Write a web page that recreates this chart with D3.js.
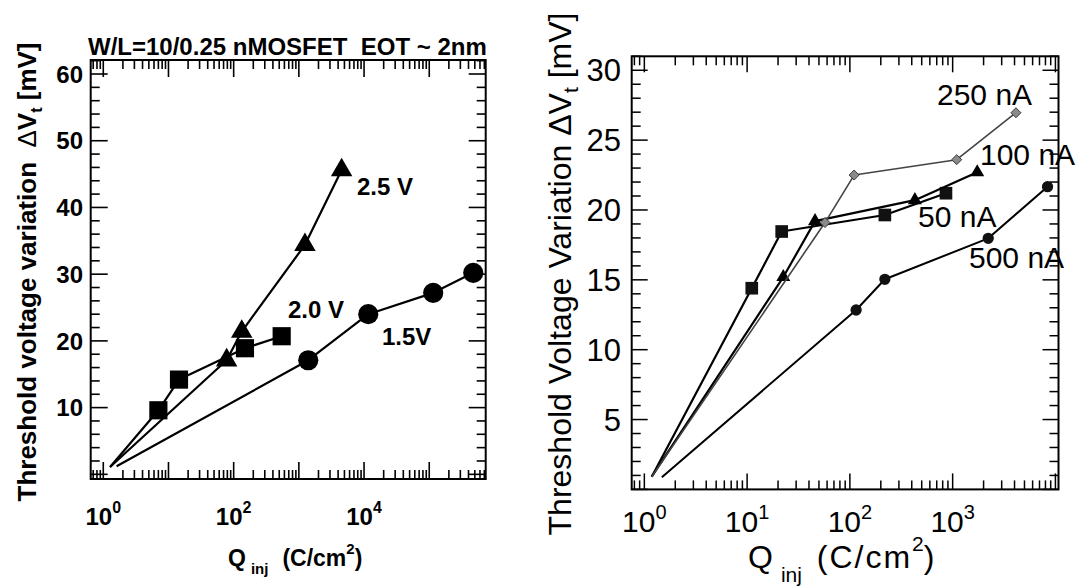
<!DOCTYPE html>
<html><head><meta charset="utf-8">
<script src="https://cdn.jsdelivr.net/npm/d3@7"></script>
<style>
body{margin:0;background:#fff}
svg{display:block}
text{font-family:"Liberation Sans",Arial,Helvetica,sans-serif;fill:#000}
</style>
</head><body>
<svg id="chart" width="1084" height="587"></svg>
<script>
// ---------------- data (left panel) ----------------
const leftTitle = "W/L=10/0.25 nMOSFET\u00a0\u00a0EOT ~ 2nm";
const leftYTicks = [10, 20, 30, 40, 50, 60];
const leftXExps = [0, 2, 4];
const leftNames = ["2.5 V", "2.0 V", "1.5V"];
const leftQ25 = [1.27, 78, 133, 1240, 4530];
const leftV25 = [1.1, 17.1, 21.4, 34.4, 45.6];
const leftQ20 = [1.27, 7.0, 14.5, 149, 545];
const leftV20 = [1.1, 9.6, 14.2, 18.9, 20.7];
const leftQ15 = [1.6, 1394, 11600, 115000, 473000];
const leftV15 = [1.2, 17.1, 24.0, 27.2, 30.2];

// ---------------- data (right panel) ----------------
const rightYTicks = [5, 10, 15, 20, 25, 30];
const rightXExps = [0, 1, 2, 3];
const rightNames = ["250 nA", "100 nA", "50 nA", "500 nA"];
const rightQ50 = [1.18, 11.1, 21.7, 219, 861];
const rightV50 = [0.91, 14.4, 18.46, 19.64, 21.2];
const rightQ100 = [1.18, 22.5, 45.8, 429, 1735];
const rightV100 = [0.91, 15.2, 19.2, 20.7, 22.7];
const rightQ250 = [1.18, 57.3, 110, 1094, 4130];
const rightV250 = [0.91, 19.1, 22.5, 23.6, 26.96];
const rightQ500 = [1.48, 115, 219, 2220, 8380];
const rightV500 = [0.87, 12.84, 15.04, 17.97, 21.67];

const svg = d3.select("#chart");
svg.append("rect").attr("width", 1084).attr("height", 587).attr("fill", "#fff");

const zip = (q, v) => q.map((d, i) => ({q: d, v: v[i]}));

function logTicks(scale) {
  const [a, b] = scale.domain();
  const out = [];
  for (let e = Math.floor(Math.log10(a)); e <= Math.ceil(Math.log10(b)); e++)
    for (let k = 1; k <= 9; k++) {
      const v = k * Math.pow(10, e);
      if (v >= a && v <= b) out.push({v, major: k === 1});
    }
  return out;
}

function drawFrame(g, x, y, o) {
  const [x0, x1] = x.range(), [y0, y1] = y.range();
  const tg = g.append("g").attr("stroke", "#000").attr("stroke-width", o.tickW);
  logTicks(x).forEach(t => {
    const xx = x(t.v), L = t.major ? o.maj : o.min;
    tg.append("line").attr("x1", xx).attr("x2", xx).attr("y1", y0).attr("y2", y0 - L);
    tg.append("line").attr("x1", xx).attr("x2", xx).attr("y1", y1).attr("y2", y1 + L);
  });
  const [ya, yb] = y.domain();
  for (let v = Math.ceil(ya / o.yStep) * o.yStep; v <= yb + 1e-9; v += o.yStep) {
    const major = Math.abs(v / o.yMajor - Math.round(v / o.yMajor)) < 1e-6;
    const L = major ? o.maj : o.min, yy = y(v);
    tg.append("line").attr("x1", x0).attr("x2", x0 + L).attr("y1", yy).attr("y2", yy);
    tg.append("line").attr("x1", x1).attr("x2", x1 - L).attr("y1", yy).attr("y2", yy);
  }
  g.append("rect").attr("x", x0).attr("y", y1).attr("width", x1 - x0).attr("height", y0 - y1)
    .attr("fill", "none").attr("stroke", "#000").attr("stroke-width", o.frameW);
}

function drawSeries(g, x, y, data, st) {
  const line = d3.line().x(d => x(d.q)).y(d => y(d.v));
  g.append("path").attr("d", line(data)).attr("fill", "none")
    .attr("stroke", st.line).attr("stroke-width", st.lw).attr("stroke-linejoin", "round");
  g.selectAll(null).data(data.slice(1)).enter().append("path")
    .attr("transform", d => `translate(${x(d.q)},${y(d.v)})`)
    .attr("d", d3.symbol().type(st.sym).size(st.size))
    .attr("fill", st.fill).attr("stroke", st.stroke || "none").attr("stroke-width", st.sw || 0);
}

// =============== LEFT PANEL ===============
{
  const g = svg.append("g");
  const x = d3.scaleLog().domain([Math.pow(10, -0.193), Math.pow(10, 5.866)]).range([90.7, 485.7]);
  const y = d3.scaleLinear().domain([-0.7, 62.1]).range([479, 60]);
  drawFrame(g, x, y, {maj: 17, min: 9, tickW: 1.6, frameW: 2, yStep: 2, yMajor: 10});

  drawSeries(g, x, y, zip(leftQ15, leftV15), {line: "#000", lw: 2.2, sym: d3.symbolCircle, size: 320, fill: "#000"});
  drawSeries(g, x, y, zip(leftQ20, leftV20), {line: "#000", lw: 2.2, sym: d3.symbolSquare, size: 330, fill: "#000"});
  drawSeries(g, x, y, zip(leftQ25, leftV25), {line: "#000", lw: 2.2, sym: d3.symbolTriangle, size: 200, fill: "#000"});

  const bold = s => s.attr("font-weight", 700);
  g.append("text").attr("x", 88).attr("y", 55).attr("font-size", 24).call(bold).text(leftTitle);

  g.selectAll(null).data(leftYTicks).enter().append("text")
    .attr("x", 83).attr("y", d => y(d)).attr("dy", "0.36em").attr("text-anchor", "end")
    .attr("font-size", 24).call(bold).text(d => d);

  leftXExps.forEach(e => {
    const t = g.append("text").attr("x", x(Math.pow(10, e))).attr("y", 525)
      .attr("text-anchor", "middle").attr("font-size", 24).call(bold);
    t.append("tspan").text("10");
    t.append("tspan").attr("font-size", 16).attr("dy", -12).text(e);
  });

  const xl = g.append("text").attr("x", 228).attr("y", 566).attr("font-size", 23).call(bold);
  xl.append("tspan").text("Q");
  xl.append("tspan").attr("font-size", 15).attr("dx", 5).attr("dy", 8).text("inj");
  xl.append("tspan").attr("dx", 14).attr("dy", -8).text("(C/cm");
  xl.append("tspan").attr("font-size", 15).attr("dy", -12).text("2");
  xl.append("tspan").attr("dy", 12).text(")");

  const yl = g.append("text").attr("transform", "translate(36,272) rotate(-90)")
    .attr("text-anchor", "middle").attr("font-size", 26).call(bold);
  yl.append("tspan").text("Threshold voltage variation\u00a0\u00a0");
  yl.append("tspan").attr("font-weight", 400).text("\u0394");
  yl.append("tspan").text("V");
  yl.append("tspan").attr("font-size", 16).attr("dy", 6).text("t");
  yl.append("tspan").attr("dy", -6).text(" [mV]");

  const lp = [[357, 195], [288, 318], [382, 345]];
  leftNames.forEach((n, i) => g.append("text").attr("x", lp[i][0]).attr("y", lp[i][1])
    .attr("font-size", 24).call(bold).text(n));
}

// =============== RIGHT PANEL ===============
{
  const g = svg.append("g");
  const x = d3.scaleLog().domain([Math.pow(10, -0.123), Math.pow(10, 4.03)]).range([631.7, 1058.5]);
  const y = d3.scaleLinear().domain([0, 31]).range([489.4, 56.3]);
  drawFrame(g, x, y, {maj: 16, min: 9, tickW: 1.5, frameW: 2, yStep: 1, yMajor: 5});

  drawSeries(g, x, y, zip(rightQ500, rightV500), {line: "#000", lw: 2, sym: d3.symbolCircle, size: 100, fill: "#111"});
  drawSeries(g, x, y, zip(rightQ50, rightV50), {line: "#000", lw: 2.2, sym: d3.symbolSquare, size: 160, fill: "#111"});
  drawSeries(g, x, y, zip(rightQ100, rightV100), {line: "#000", lw: 2.2, sym: d3.symbolTriangle, size: 85, fill: "#000"});
  drawSeries(g, x, y, zip(rightQ250, rightV250), {line: "#444", lw: 1.6, sym: d3.symbolDiamond2, size: 64, fill: "#8a8a8a", stroke: "#3a3a3a", sw: 1});

  g.selectAll(null).data(rightYTicks).enter().append("text")
    .attr("x", 621).attr("y", d => y(d)).attr("dy", "0.36em").attr("text-anchor", "end")
    .attr("font-size", 31).text(d => d);

  rightXExps.forEach(e => {
    const t = g.append("text").attr("x", x(Math.pow(10, e))).attr("y", 532)
      .attr("text-anchor", "middle").attr("font-size", 30);
    t.append("tspan").text("10");
    t.append("tspan").attr("font-size", 20).attr("dy", -13).text(e);
  });

  const xl = g.append("text").attr("x", 748).attr("y", 568).attr("font-size", 32);
  xl.append("tspan").text("Q");
  xl.append("tspan").attr("font-size", 21).attr("dx", 8).attr("dy", 14).text("inj");
  xl.append("tspan").attr("dx", 4).attr("dy", -14).attr("letter-spacing", 2).text(" (C/cm");
  xl.append("tspan").attr("font-size", 21).attr("dy", -17).text("2");
  xl.append("tspan").attr("dy", 17).text(")");

  const yl = g.append("text").attr("transform", "translate(571,274) rotate(-90)")
    .attr("text-anchor", "middle").attr("font-size", 32);
  yl.append("tspan").text("Threshold Voltage Variation \u0394V");
  yl.append("tspan").attr("font-size", 21).attr("dy", 7).text("t");
  yl.append("tspan").attr("dy", -7).text(" [mV]");

  const lp = [[937, 105], [980, 165], [918, 227], [969, 268]];
  rightNames.forEach((n, i) => g.append("text").attr("x", lp[i][0]).attr("y", lp[i][1])
    .attr("font-size", 30).text(n));
}
</script>
</body></html>
